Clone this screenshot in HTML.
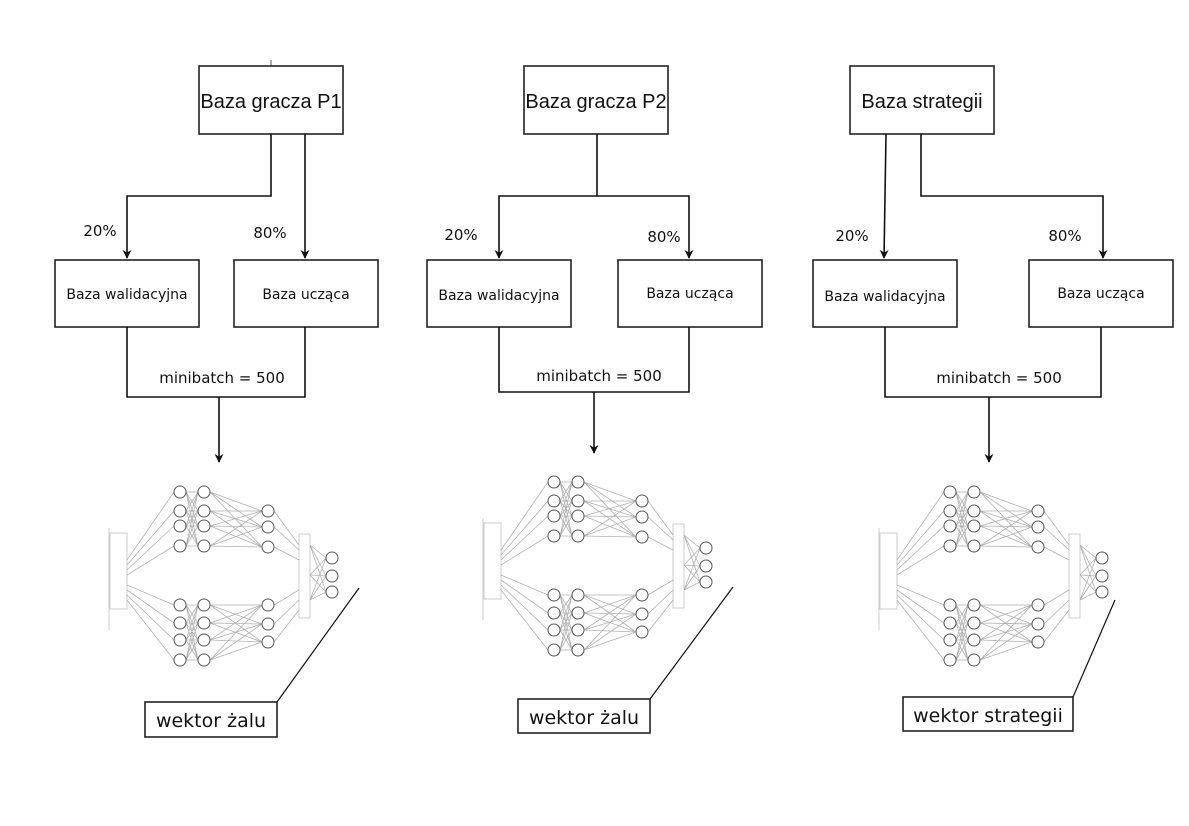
<!DOCTYPE html>
<html><head><meta charset="utf-8"><style>
html,body{margin:0;padding:0;background:#fff;}
svg{display:block;}
.b{fill:#fff;stroke:#222;stroke-width:1.6;}
.l{fill:none;stroke:#111;stroke-width:1.6;}
.t{font-family:"DejaVu Sans",sans-serif;font-size:15px;fill:#111;}
.h{font-family:"Liberation Sans",sans-serif;font-size:20px;fill:#111;}
.w{font-family:"DejaVu Sans",sans-serif;font-size:19px;fill:#111;}
.g{fill:none;stroke:#b0b0b0;stroke-width:0.8;}
.n{fill:#fff;stroke:#555;stroke-width:1;}
</style></head><body>
<svg width="1189" height="826" viewBox="0 0 1189 826" xmlns="http://www.w3.org/2000/svg">
<defs>
<marker id="ar" viewBox="0 0 10 10" refX="9" refY="5" markerWidth="9" markerHeight="11" orient="auto" markerUnits="userSpaceOnUse"><path d="M0 0L10 5L0 10L3 5Z" fill="#111"/></marker>
<g id="net">
<line x1="109" y1="528" x2="109" y2="630" stroke="#ccc" stroke-width="1"/>
<rect x="110" y="533" width="17" height="76" fill="#fff" stroke="#ccc"/>
<rect x="299" y="534" width="11" height="84" fill="#fff" stroke="#ccc"/>
<path class="g" d="M127 560L174 492M127 565L174 511M127 570L174 526M127 575L174 546M127 585L174 605M127 590L174 623M127 595L174 640M127 600L174 660"/>
<path class="g" d="M186 492L198 492M186 492L198 511M186 492L198 526M186 492L198 546M186 511L198 492M186 511L198 511M186 511L198 526M186 511L198 546M186 526L198 492M186 526L198 511M186 526L198 526M186 526L198 546M186 546L198 492M186 546L198 511M186 546L198 526M186 546L198 546"/>
<path class="g" d="M186 605L198 605M186 605L198 623M186 605L198 640M186 605L198 660M186 623L198 605M186 623L198 623M186 623L198 640M186 623L198 660M186 640L198 605M186 640L198 623M186 640L198 640M186 640L198 660M186 660L198 605M186 660L198 623M186 660L198 640M186 660L198 660"/>
<path class="g" d="M210 492L262 511M210 492L262 527M210 492L262 547M210 511L262 511M210 511L262 527M210 511L262 547M210 526L262 511M210 526L262 527M210 526L262 547M210 546L262 511M210 546L262 527M210 546L262 547"/>
<path class="g" d="M210 605L262 605M210 605L262 624M210 605L262 642M210 623L262 605M210 623L262 624M210 623L262 642M210 640L262 605M210 640L262 624M210 640L262 642M210 660L262 605M210 660L262 624M210 660L262 642"/>
<path class="g" d="M274 511L299 545M274 527L299 550M274 547L299 560M274 605L299 590M274 624L299 600M274 642L299 610"/>
<path class="g" d="M310 545L326 558M310 545L326 576M310 545L326 592M310 575L326 558M310 575L326 576M310 575L326 592M310 600L326 558M310 600L326 576M310 600L326 592"/>
<circle class="n" cx="180" cy="492" r="6"/><circle class="n" cx="180" cy="511" r="6"/><circle class="n" cx="180" cy="526" r="6"/><circle class="n" cx="180" cy="546" r="6"/>
<circle class="n" cx="180" cy="605" r="6"/><circle class="n" cx="180" cy="623" r="6"/><circle class="n" cx="180" cy="640" r="6"/><circle class="n" cx="180" cy="660" r="6"/>
<circle class="n" cx="204" cy="492" r="6"/><circle class="n" cx="204" cy="511" r="6"/><circle class="n" cx="204" cy="526" r="6"/><circle class="n" cx="204" cy="546" r="6"/>
<circle class="n" cx="204" cy="605" r="6"/><circle class="n" cx="204" cy="623" r="6"/><circle class="n" cx="204" cy="640" r="6"/><circle class="n" cx="204" cy="660" r="6"/>
<circle class="n" cx="268" cy="511" r="6"/><circle class="n" cx="268" cy="527" r="6"/><circle class="n" cx="268" cy="547" r="6"/>
<circle class="n" cx="268" cy="605" r="6"/><circle class="n" cx="268" cy="624" r="6"/><circle class="n" cx="268" cy="642" r="6"/>
<circle class="n" cx="332" cy="558" r="6"/><circle class="n" cx="332" cy="576" r="6"/><circle class="n" cx="332" cy="592" r="6"/>
</g>
</defs>

<use href="#net"/>
<use href="#net" transform="translate(374,-10)"/>
<use href="#net" transform="translate(770,0)"/>

<!-- Block 1 -->
<line x1="271" y1="60" x2="271" y2="66" stroke="#555"/>
<rect class="b" x="199" y="66" width="144" height="68"/>
<text class="h" x="271" y="108" text-anchor="middle">Baza gracza P1</text>
<path class="l" d="M271 134V196H127V258" marker-end="url(#ar)"/>
<path class="l" d="M305 134L305 258" marker-end="url(#ar)"/>
<text class="t" x="100" y="236" text-anchor="middle">20%</text>
<text class="t" x="270" y="238" text-anchor="middle">80%</text>
<rect class="b" x="55" y="260" width="144" height="67"/>
<text class="t" x="127" y="299" text-anchor="middle" style="font-size:14px">Baza walidacyjna</text>
<rect class="b" x="234" y="260" width="144" height="67"/>
<text class="t" x="306" y="299" text-anchor="middle" style="font-size:14px">Baza ucząca</text>
<path class="l" d="M127 327V397H305V327"/>
<text class="t" x="222" y="383" text-anchor="middle">minibatch = 500</text>
<path class="l" d="M219 397V462" marker-end="url(#ar)"/>
<rect class="b" x="145" y="702" width="132" height="35"/>
<text class="w" x="211" y="727" text-anchor="middle">wektor żalu</text>
<line x1="277" y1="702" x2="359" y2="588" stroke="#111" stroke-width="1.2"/>

<!-- Block 2 -->
<rect class="b" x="524" y="66" width="144" height="68"/>
<text class="h" x="596" y="108" text-anchor="middle">Baza gracza P2</text>
<path class="l" d="M597 134V196H499V258" marker-end="url(#ar)"/>
<path class="l" d="M597 196H689V258" marker-end="url(#ar)"/>
<text class="t" x="461" y="240" text-anchor="middle">20%</text>
<text class="t" x="664" y="242" text-anchor="middle">80%</text>
<rect class="b" x="427" y="260" width="144" height="67"/>
<text class="t" x="499" y="300" text-anchor="middle" style="font-size:14px">Baza walidacyjna</text>
<rect class="b" x="618" y="260" width="144" height="67"/>
<text class="t" x="690" y="298" text-anchor="middle" style="font-size:14px">Baza ucząca</text>
<path class="l" d="M499 327V392H689V327"/>
<text class="t" x="599" y="381" text-anchor="middle">minibatch = 500</text>
<path class="l" d="M594 392V453" marker-end="url(#ar)"/>
<rect class="b" x="518" y="699" width="132" height="34"/>
<text class="w" x="584" y="724" text-anchor="middle">wektor żalu</text>
<line x1="650" y1="699" x2="733" y2="587" stroke="#111" stroke-width="1.2"/>

<!-- Block 3 -->
<rect class="b" x="850" y="66" width="144" height="68"/>
<text class="h" x="922" y="108" text-anchor="middle">Baza strategii</text>
<path class="l" d="M886 134L884 258" marker-end="url(#ar)"/>
<path class="l" d="M921 134V196H1103V258" marker-end="url(#ar)"/>
<text class="t" x="852" y="241" text-anchor="middle">20%</text>
<text class="t" x="1065" y="241" text-anchor="middle">80%</text>
<rect class="b" x="813" y="260" width="144" height="67"/>
<text class="t" x="885" y="301" text-anchor="middle" style="font-size:14px">Baza walidacyjna</text>
<rect class="b" x="1029" y="260" width="144" height="67"/>
<text class="t" x="1101" y="298" text-anchor="middle" style="font-size:14px">Baza ucząca</text>
<path class="l" d="M885 327V397H1101V327"/>
<text class="t" x="999" y="383" text-anchor="middle">minibatch = 500</text>
<path class="l" d="M989 397V462" marker-end="url(#ar)"/>
<rect class="b" x="903" y="697" width="170" height="34"/>
<text class="w" x="988" y="722" text-anchor="middle">wektor strategii</text>
<line x1="1073" y1="697" x2="1115" y2="600" stroke="#111" stroke-width="1.2"/>
</svg>
</body></html>
